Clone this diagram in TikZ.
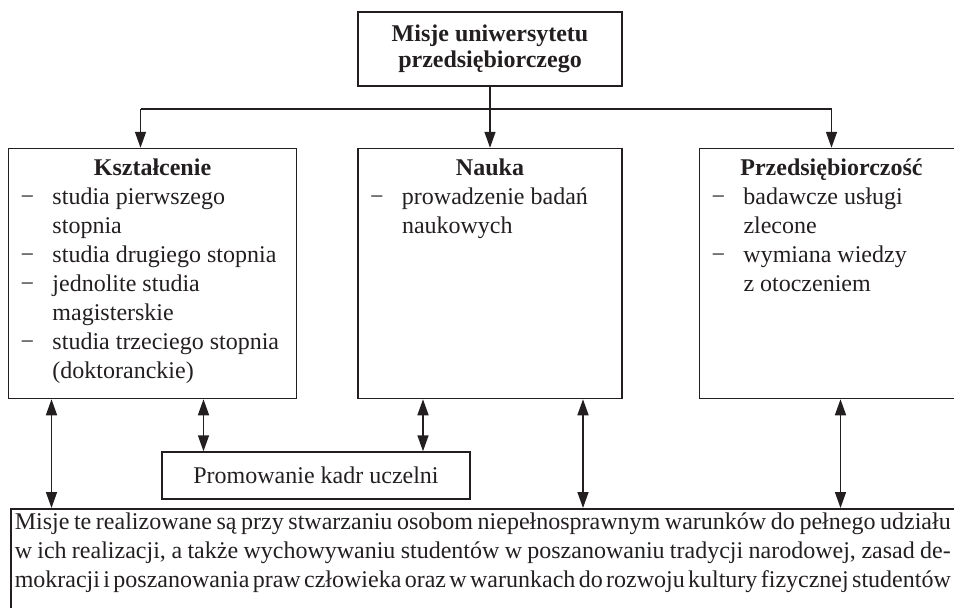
\documentclass[tikz,border=0pt]{standalone}
\usepackage{fontspec}
\setmainfont{Liberation Serif}
\usepackage{tikz}
\usetikzlibrary{arrows.meta, positioning}
\definecolor{ink}{HTML}{231F20}

\newcommand{\dashitem}[1]{\par\noindent\hangindent=16pt\hangafter=1\makebox[16pt][l]{−}#1}
\newcommand{\columntext}[3]{\parbox[c][115pt][t]{#1}{{\centering\textbf{#2}\par}\raggedright #3}}
\newcommand{\fullline}[1]{\makebox[468pt][s]{#1}}

\begin{document}
\begin{tikzpicture}[
    x=0.5pt, y=-0.5pt,
    every node/.append style={font=\fontsize{12pt}{14.5pt}\selectfont, text=ink},
    box/.style={draw=ink, line width=0.75pt},
    head/.style={box, align=center, minimum width=132pt, minimum height=37pt, font=\fontsize{12pt}{13pt}\selectfont\bfseries},
    column/.style={box, inner xsep=6pt, inner ysep=5pt},
    staff/.style={box, minimum width=154pt, minimum height=23.5pt},
    note/.style={box, inner xsep=2pt, inner ysep=2pt, anchor=north west},
    arrow/.style={box, -{Triangle[length=8pt, width=5.5pt]}},
    twoway/.style={box, {Triangle[length=8pt, width=5.5pt]}-{Triangle[length=8pt, width=5.5pt]}}
]
    \useasboundingbox (0,0) rectangle (954,607);
    \clip (0,0) rectangle (954,607);

    % Missions
    \node[head] (misje) at (490,49) {Misje uniwersytetu\\przedsiębiorczego};
    \node[column, below=30.5pt of misje] (nauka) {\columntext{120pt}{Nauka}{%
        \dashitem{prowadzenie badań\newline naukowych}}};
    \node[column, left=30pt of nauka] (ksztalcenie) {\columntext{132pt}{Kształcenie}{%
        \dashitem{studia pierwszego\newline stopnia}
        \dashitem{studia drugiego stopnia}
        \dashitem{jednolite studia\newline magisterskie}
        \dashitem{studia trzeciego stopnia\newline (doktoranckie)}}};
    \node[column, right=38pt of nauka] (przeds) {\columntext{120pt}{Przedsiębiorczość}{%
        \dashitem{badawcze usługi\newline zlecone}
        \dashitem{wymiana wiedzy\newline z otoczeniem}}};

    % Staff and conditions
    \node[staff] (kadry) at (316,475.5) {Promowanie kadr uczelni};
    \node[note] (realizacja) at (10,508) {\parbox[c][50pt][t]{468pt}{\spaceskip=0.16em plus 0.3em minus 0.02em
        \fullline{Misje te realizowane są przy stwarzaniu osobom niepełnosprawnym warunków do pełnego udziału}\\
        \fullline{w ich realizacji, a także wychowywaniu studentów w poszanowaniu tradycji narodowej, zasad de-}\\
        \fullline{mokracji i poszanowania praw człowieka oraz w warunkach do rozwoju kultury fizycznej studentów}}};

    % Branches
    \coordinate (galaz) at (490,109);
    \coordinate (kTop) at ([xshift=-6pt]ksztalcenie.north);
    \draw[arrow] (misje) -- (nauka);
    \draw[box] (kTop |- galaz) -- (przeds.north |- galaz);
    \draw[arrow] (kTop |- galaz) -- (kTop);
    \draw[arrow] (przeds.north |- galaz) -- (przeds.north);

    % Two-way links
    \coordinate (k1) at ([xshift=-50.5pt]ksztalcenie.south);
    \coordinate (k2) at ([xshift=25.5pt]ksztalcenie.south);
    \coordinate (n1) at ([xshift=-33.5pt]nauka.south);
    \coordinate (n2) at ([xshift=46.5pt]nauka.south);
    \coordinate (p1) at ([xshift=4.5pt]przeds.south);
    \draw[twoway] (k1) -- (k1 |- realizacja.north);
    \draw[twoway] (k2) -- (k2 |- kadry.north);
    \draw[twoway] (n1) -- (n1 |- kadry.north);
    \draw[twoway] (n2) -- (n2 |- realizacja.north);
    \draw[twoway] (p1) -- (p1 |- realizacja.north);
\end{tikzpicture}
\end{document}
